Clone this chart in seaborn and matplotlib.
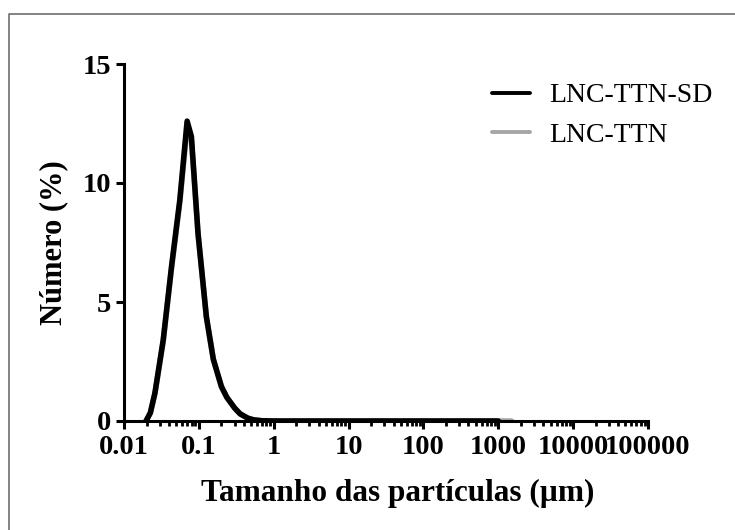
import numpy as np
import pandas as pd
import matplotlib
matplotlib.use("Agg")
import matplotlib.pyplot as plt
import seaborn as sns
from matplotlib.lines import Line2D
from matplotlib.ticker import FixedLocator, LogLocator, NullFormatter

# particle size distribution (number %)
SIZE_SD = [0.0197, 0.0225, 0.0259, 0.0334, 0.0431, 0.0557, 0.0697, 0.0795, 0.0975,
           0.126, 0.156, 0.20, 0.236, 0.30, 0.356, 0.45, 0.536, 0.70, 1.0, 10.0, 100.0, 1000.0]
NUM_SD = [0.0, 0.35, 1.18, 3.4, 6.48, 9.29, 12.6, 11.95, 7.88,
          4.38, 2.6, 1.45, 1.0, 0.55, 0.3, 0.12, 0.05, 0.01, 0.0, 0.0, 0.0, 0.0]

SIZE_TTN = [0.0197, 0.0225, 0.0259, 0.0334, 0.0431, 0.0557, 0.0697, 0.0795, 0.0975,
            0.126, 0.156, 0.20, 0.236, 0.30, 0.356, 0.45, 0.536, 0.70, 1.0, 10.0, 100.0, 1500.0]
NUM_TTN = [0.0, 0.33, 1.15, 3.35, 6.4, 9.2, 12.35, 11.8, 7.85,
           4.35, 2.58, 1.44, 0.99, 0.54, 0.3, 0.12, 0.05, 0.01, 0.0, 0.0, 0.0, 0.0]

LABELS = ["LNC-TTN-SD", "LNC-TTN"]
COLORS = {"LNC-TTN-SD": "#000000", "LNC-TTN": "#a6a6a6"}
XTICKS = [0.01, 0.1, 1, 10, 100, 1000, 10000, 100000]
XTICKLABELS = ["0.01", "0.1", "1", "10", "100", "1000", "10000", "100000"]
YTICKS = [0, 5, 10, 15]

df = pd.concat([
    pd.DataFrame({"size": SIZE_TTN, "num": NUM_TTN, "sample": "LNC-TTN"}),
    pd.DataFrame({"size": SIZE_SD, "num": NUM_SD, "sample": "LNC-TTN-SD"}),
])

sns.set_style("ticks")
plt.rcParams["font.family"] = ["Liberation Serif", "DejaVu Serif"]
plt.rcParams["text.color"] = "black"
plt.rcParams["axes.labelcolor"] = "black"
plt.rcParams["xtick.color"] = "black"
plt.rcParams["ytick.color"] = "black"

fig = plt.figure(figsize=(7.35, 5.3), dpi=100)
ax = fig.add_axes([124 / 735, 1 - 421 / 530, (648 - 124) / 735, (421 - 64) / 530])

sns.lineplot(data=df, x="size", y="num", hue="sample", hue_order=["LNC-TTN", "LNC-TTN-SD"],
             palette=COLORS, linewidth=4.0, ax=ax, legend=False, sort=False)

ax.set_xscale("log")
ax.set_xlim(0.01, 100000)
ax.set_ylim(0, 15)
ax.xaxis.set_major_locator(FixedLocator(XTICKS))
ax.set_xticklabels(XTICKLABELS)
ax.xaxis.set_minor_locator(LogLocator(base=10, subs=np.arange(2, 10), numticks=20))
ax.xaxis.set_minor_formatter(NullFormatter())
ax.set_yticks(YTICKS)

for side in ["top", "right"]:
    ax.spines[side].set_visible(False)
for side in ["left", "bottom"]:
    ax.spines[side].set_linewidth(2.2)
    ax.spines[side].set_color("black")

ax.tick_params(axis="both", which="major", length=6, width=2.2, labelsize=20.5, pad=3)
ax.tick_params(axis="x", which="major", pad=4)
ax.tick_params(axis="x", which="minor", length=3.5, width=2.0)
for lab in ax.get_xticklabels() + ax.get_yticklabels():
    lab.set_fontweight("bold")

ax.set_xlabel("Tamanho das partículas (µm)", fontsize=22.5, fontweight="bold", labelpad=14)
ax.xaxis.label.set_x(0.523)
ax.set_ylabel("Número (%)", fontsize=22, fontweight="bold", labelpad=11)

handles = [Line2D([0], [0], color=COLORS[k], lw=2.8) for k in LABELS]
fig.legend(handles, LABELS, loc="upper left", bbox_to_anchor=(467 / 735, 1 - 58 / 530),
           frameon=False, fontsize=20, handlelength=1.37, handletextpad=0.68,
           labelspacing=0.5)

# outer frame (only left and top edges are inside the picture)
fig.add_artist(Line2D([9 / 735, 9 / 735, 1.0], [0.0, 1 - 14 / 530, 1 - 14 / 530],
                      transform=fig.transFigure, color="#6e6e6e", lw=1.2))

fig.savefig("out.png", dpi=100)
